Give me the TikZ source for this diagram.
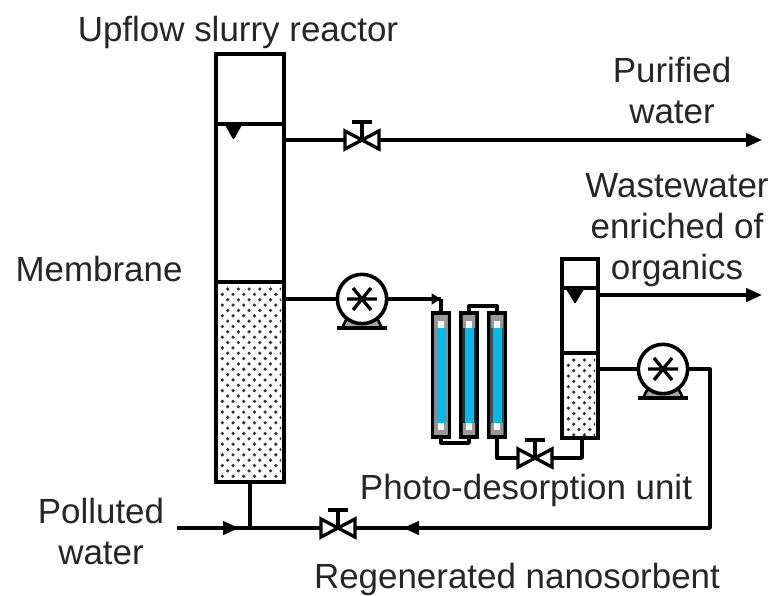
\documentclass[tikz,border=0pt]{standalone}
\usepackage{fontspec}
\setmainfont{Liberation Sans}
\usetikzlibrary{arrows.meta}
\definecolor{ink}{HTML}{262626}
\definecolor{tubeblue}{HTML}{0FB6E6}
\tikzset{
  pipe/.style={line width=2.5pt,draw=black,line join=round},
  flow/.style={pipe,-{Triangle[length=12pt,width=10pt]}},
  tinyflow/.style={pipe,-{Triangle[length=7pt,width=8pt]}},
  vessel/.style={draw=black,line width=2.7pt,inner sep=0pt,outer sep=0pt},
  pumpbody/.style={circle,draw=black,line width=2.7pt,fill=white,inner sep=0pt,outer sep=0pt,minimum size=37pt},
  label/.style={font=\fontsize{26.2}{30}\selectfont,text=ink,anchor=base,inner sep=0pt},
  sorbent/.style={fill=black!80,draw=none}
}
\newcommand{\valvesym}[3]{% name, x, y
  \coordinate (#1) at (#2,#3);
  \filldraw[line width=2.5pt,fill=white,line join=miter] (#2,#3) -- ++(-17,-9) -- ++(0,18) -- cycle;
  \filldraw[line width=2.5pt,fill=white,line join=miter] (#2,#3) -- ++(17,-9) -- ++(0,18) -- cycle;
  \draw[line width=2.5pt] (#2,#3) -- ++(0,-18) ++(-10,0) -- ++(20,0);
}
\newcommand{\pumpsym}[3]{% name, x, y
  \fill[black!35,draw=black,line width=2pt] (#2-14,#3+17) -- (#2+14,#3+17) -- (#2+20,#3+29) -- (#2-20,#3+29) -- cycle;
  \draw[line width=2.8pt] (#2-25,#3+29) -- (#2+25,#3+29);
  \node[pumpbody] (#1) at (#2,#3) {};
  \draw[line width=2.5pt] (#2-15,#3) -- (#2+15,#3) (#2-9,#3-11) -- (#2+9,#3+11) (#2-9,#3+11) -- (#2+9,#3-11);
}
\newcommand{\tubesym}[3]{% name, x-centre, side colour
  \node[vessel,fill=#3,minimum width=12.5pt,minimum height=93pt] (#1) at (#2,375) {};
  \fill[tubeblue] (#2-4.5,328) rectangle (#2+4.5,423);
  \fill[black!40] (#2-6,315) rectangle (#2+6,328);
  \fill[black!40] (#2-6,423) rectangle (#2+6,435);
  \fill[white] (#2-3,321) rectangle (#2+3,328);
  \fill[white] (#2-3,423) rectangle (#2+3,430);
}
\newcommand{\dotfield}[4]{% x1,y1,x2,y2
  \begin{scope}
    \clip (#1+3,#2+3) rectangle (#3-3,#4-3);
    \foreach \r in {0,...,40}{
      \foreach \c in {0,...,8}{
        \pgfmathsetmacro{\dx}{#1+1+\c*10.7+mod(\r,2)*5.35}
        \pgfmathsetmacro{\dy}{#2+7+\r*5.35}
        \fill[sorbent] (\dx,\dy) circle[radius=1.8];
      }
    }
  \end{scope}
}
\begin{document}
\begin{tikzpicture}[x=0.75pt,y=-0.75pt]
\useasboundingbox[fill=white] (0,0) rectangle (771,596);

% main reactor
\dotfield{216}{282}{284}{482}
\node[vessel,minimum width=51pt,minimum height=321pt] (reactor) at (250,268) {};
\coordinate (rwl) at (216,124);
\coordinate (rsl) at (216,282);
\draw[line width=2.7pt] (rwl) -- (rwl -| reactor.east);
\draw[line width=2.7pt] (rsl) -- (rsl -| reactor.east);
\fill[black,rounded corners=1pt] (225,125) -- (242,125) -- (233.5,140) -- cycle;

% small reactor
\dotfield{562}{353}{598}{438}
\node[vessel,minimum width=27pt,minimum height=134pt] (small) at (580,348.5) {};
\coordinate (swl) at (562,288);
\coordinate (ssl) at (562,353);
\draw[line width=2.7pt] (swl) -- (swl -| small.east);
\draw[line width=2.7pt] (ssl) -- (ssl -| small.east);
\fill[black,rounded corners=1pt] (566,289) -- (584,289) -- (575,304) -- cycle;

% coordinates for connectors
\coordinate (purout) at (762,140);
\coordinate (orgout) at (762,295);
\coordinate (c1) at (441,299);
\coordinate (t1b) at (441,443);
\coordinate (t2t) at (469,306);
\coordinate (t3b) at (497,458);
\coordinate (sb) at (582,458);
\coordinate (r1) at (710,369);
\coordinate (r2) at (710,528);
\coordinate (inlet) at (177,528);
\coordinate (tee) at (250,528);
\coordinate (arrA) at (239,528);
\coordinate (arrB) at (403,528);

% tubes
\tubesym{tubeA}{441}{black!45}
\tubesym{tubeB}{469}{black!85}
\tubesym{tubeC}{497}{black!70}

% connectors
\draw[flow] (reactor.east |- purout) -- (purout);
\draw[flow] (small.east |- orgout) -- (orgout);
\draw[pipe] (reactor.east |- c1) -- (c1);
\draw[pipe,rounded corners=3pt] (c1) -- (tubeA.north);
\draw[tinyflow] (420,299) -- (c1);
\draw[pipe] (tubeA.south) -- (t1b) -- (t1b -| tubeB.south) -- (tubeB.south);
\draw[pipe] (tubeB.north) -- (t2t) -- (t2t -| tubeC.north) -- (tubeC.north);
\draw[pipe] (tubeC.south) -- (t3b) -- (sb) -- (sb |- small.south);
\draw[pipe] (small.east |- r1) -- (r1) -- (r2) -- (inlet);
\draw[pipe] (tee) -- (tee |- reactor.south);
\draw[flow] (inlet) -- (arrA);
\draw[flow] (r2) -- (arrB);

% valves and pumps
\valvesym{vA}{362}{140}
\valvesym{vB}{535}{458}
\valvesym{vC}{338}{528}
\pumpsym{pA}{362}{299}
\pumpsym{pB}{663}{369}

% labels
\node[label] (l1) at (238,41) {Upflow slurry reactor};
\node[label] (l2) at (672,82) {Purified};
\node[label] (l3) at (672,123) {water};
\node[label] (l4) at (677,197) {Wastewater};
\node[label] (l5) at (677,238) {enriched of};
\node[label] (l6) at (677,279) {organics};
\node[label] (l7) at (99,281) {Membrane};
\node[label] (l8) at (526,499) {Photo-desorption unit};
\node[label] (l9) at (101,523) {Polluted};
\node[label] (l10) at (101,564) {water};
\node[label] (l11) at (517,588) {Regenerated nanosorbent};
\end{tikzpicture}
\end{document}
